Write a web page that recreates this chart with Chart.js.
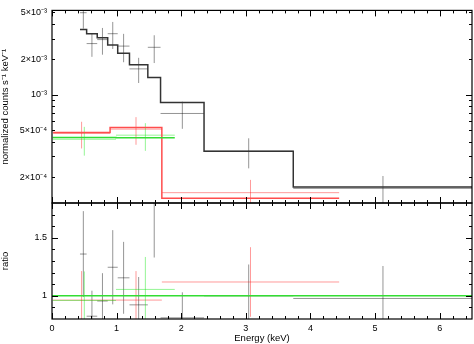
<!DOCTYPE html>
<html lang="en">
<head>
<meta charset="UTF-8">
<title>Spectrum and ratio</title>
<script src="https://cdn.jsdelivr.net/npm/chart.js"></script>
<style>
    body { margin: 0; background: #fff; }
    .wrap { position: relative; width: 474px; height: 344px; }
    .wrap canvas { position: absolute; left: 0; top: 0; }
</style>
</head>
<body>
<div class="wrap">
    <canvas id="topChart" width="474" height="344"></canvas>
    <canvas id="ratioChart" width="474" height="344"></canvas>
</div>
<script>
// black spectrum: bin edges (keV), centres, data, errors, model, ratio
const blackEdges = [0.433, 0.536, 0.700, 0.862, 1.017, 1.199, 1.483, 1.680, 2.353, 3.734, 6.51];
const blackE     = [0.485, 0.618, 0.781, 0.940, 1.108, 1.341, 1.582, 2.017, 3.044, 5.122];
const blackData  = [4.97e-3, 2.72e-3, 2.94e-3, 3.30e-3, 2.59e-3, 1.66e-3, 2.53e-3, 6.95e-4, 3.33e-4, 1.61e-4];
const blackErr   = [1.33e-3, 0.62e-3, 0.75e-3, 0.85e-3, 0.70e-3, 0.40e-3, 0.67e-3, 1.8e-4, 0.95e-4, 0.44e-4];
const blackModel = [3.59e-3, 3.30e-3, 3.05e-3, 2.65e-3, 2.25e-3, 1.80e-3, 1.40e-3, 8.61e-4, 3.33e-4, 1.65e-4];
const blackRatio = [1.36, 0.824, 0.955, 1.246, 1.155, 0.922, 1.81, 0.81, 1.0, 0.977];
const blackRErr  = [0.37, 0.22, 0.24, 0.32, 0.31, 0.24, 0.48, 0.22, 0.27, 0.28];

// red spectrum
const redEdges = [0.017, 0.899, 1.700, 4.444];
const redE     = [0.458, 1.300, 3.072];
const redData  = [4.71e-4, 5.12e-4, 1.48e-4];
const redErr   = [1.2e-4, 1.35e-4, 0.42e-4];
const redModel = [4.80e-4, 5.29e-4, 1.33e-4];
const redRatio = [0.963, 0.963, 1.119];
const redRErr  = [0.25, 0.25, 0.30];

// green spectrum
const greenEdges = [0.01, 0.99, 1.90];
const greenE     = [0.50, 1.445];
const greenData  = [4.2e-4, 4.55e-4];
const greenErr   = [1.15e-4, 1.2e-4];
const greenModel = [4.35e-4, 4.32e-4];
const greenRatio = [0.96, 1.055];
const greenRErr  = [0.25, 0.28];

// ratio = 1 reference line
const refX = [0, 6.5];
const refY = [1, 1];

// axes
const xRange = [0, 6.5];
const xTicks = [0, 1, 2, 3, 4, 5, 6];
const xTickLabels = ['0', '1', '2', '3', '4', '5', '6'];
const topRange = [1.21e-4, 5.2e-3];
const topTicks = [2e-4, 5e-4, 1e-3, 2e-3, 5e-3];
const topTickLabels = ['2×10⁻⁴', '5×10⁻⁴', '10⁻³', '2×10⁻³', '5×10⁻³'];
const ratioRange = [0.8, 1.8];
const ratioTicks = [1, 1.5];
const ratioTickLabels = ['1', '1.5'];

// minor tick positions
const xMinor = [];
for (let i = 1; i < 33; i++) if (i % 5) xMinor.push(i * 0.2);
const topMajor = [1e-3];
const topMinor = [2e-4, 3e-4, 4e-4, 5e-4, 6e-4, 7e-4, 8e-4, 9e-4, 2e-3, 3e-3, 4e-3, 5e-3];
const ratioMajor = [1, 1.5];
const ratioMinor = [0.9, 1.1, 1.2, 1.3, 1.4, 1.6, 1.7];

const BLACK_DATA = 'rgba(0,0,0,0.42)', BLACK_MODEL = '#333';
const RED_DATA = 'rgba(255,0,0,0.4)', RED_MODEL = '#ff4d4d';
const GREEN_DATA = 'rgba(0,230,0,0.42)', GREEN_MODEL = '#33dd33';

Chart.defaults.font.family = "'Liberation Sans', Arial, sans-serif";
Chart.defaults.font.size = 9;
Chart.defaults.color = '#000';

// crosses: horizontal bar across the bin + vertical error bar, split by gaps
function crosses(edges, xs, ys, errs) {
    const pts = [];
    xs.forEach((x, i) => {
        pts.push({x: edges[i], y: ys[i]}, {x: edges[i + 1], y: ys[i]}, {x: x, y: null});
        pts.push({x: x, y: ys[i] - errs[i]}, {x: x, y: ys[i] + errs[i]}, {x: x, y: null});
    });
    return pts;
}

function steps(edges, model) {
    return edges.map((e, i) => ({x: e, y: model[Math.min(i, model.length - 1)]}));
}

function lineSet(data, color, width, stepped) {
    return {
        data: data, borderColor: color, borderWidth: width, pointRadius: 0,
        spanGaps: false, stepped: !!stepped, tension: 0, fill: false
    };
}

// inward tick marks and frame, like the original plot
function frame(yMajor, yMinor) {
    return {
        id: 'frame',
        afterDatasetsDraw(chart) {
            const {ctx, chartArea: a} = chart;
            const xs = chart.scales.x, ys = chart.scales.y;
            ctx.save();
            ctx.strokeStyle = '#000';
            ctx.lineWidth = 1;
            ctx.beginPath();
            const vTick = (v, len) => {
                const p = Math.round(xs.getPixelForValue(v)) + 0.5;
                ctx.moveTo(p, a.bottom); ctx.lineTo(p, a.bottom - len);
                ctx.moveTo(p, a.top); ctx.lineTo(p, a.top + len);
            };
            const hTick = (v, len) => {
                const p = Math.round(ys.getPixelForValue(v)) + 0.5;
                ctx.moveTo(a.left, p); ctx.lineTo(a.left + len, p);
                ctx.moveTo(a.right, p); ctx.lineTo(a.right - len, p);
            };
            xTicks.forEach(v => vTick(v, 6));
            xMinor.forEach(v => vTick(v, 3));
            yMajor.forEach(v => hTick(v, 6));
            yMinor.forEach(v => hTick(v, 3));
            ctx.stroke();
            ctx.lineWidth = 1.2;
            ctx.strokeRect(a.left, a.top, a.right - a.left, a.bottom - a.top);
            ctx.restore();
        }
    };
}

const baseOpts = {
    responsive: false,
    animation: false,
    devicePixelRatio: 1,
    plugins: { legend: { display: false }, tooltip: { enabled: false } }
};

function yAxis(type, range, ticks, labels, title) {
    return {
        type: type, min: range[0], max: range[1],
        grid: { display: false, drawTicks: false },
        border: { display: false },
        afterBuildTicks: s => { s.ticks = ticks.map(v => ({value: v})); },
        ticks: { padding: 5, autoSkip: false, callback: (v, i) => labels[i] },
        title: { display: true, text: title, padding: 0, font: { size: 9.5 } },
        afterFit: s => { s.width = 52; }
    };
}

new Chart(document.getElementById('topChart'), {
    type: 'line',
    data: {
        datasets: [
            lineSet(steps(greenEdges, greenModel), GREEN_MODEL, 1.5, true),
            lineSet(steps(redEdges, redModel), RED_MODEL, 1.5, true),
            lineSet(steps(blackEdges, blackModel), BLACK_MODEL, 1.5, true),
            lineSet(crosses(greenEdges, greenE, greenData, greenErr), GREEN_DATA, 1),
            lineSet(crosses(redEdges, redE, redData, redErr), RED_DATA, 1),
            lineSet(crosses(blackEdges, blackE, blackData, blackErr), BLACK_DATA, 1)
        ]
    },
    options: Object.assign({}, baseOpts, {
        layout: { padding: { top: 10, right: 2, bottom: 141, left: 0 } },
        scales: {
            x: { type: 'linear', min: xRange[0], max: xRange[1], display: false },
            y: yAxis('logarithmic', topRange, topTicks, topTickLabels, 'normalized counts s⁻¹ keV⁻¹')
        }
    }),
    plugins: [frame(topMajor, topMinor)]
});

new Chart(document.getElementById('ratioChart'), {
    type: 'line',
    data: {
        datasets: [
            lineSet(refX.map((x, i) => ({x: x, y: refY[i]})), GREEN_MODEL, 1.5),
            lineSet(crosses(greenEdges, greenE, greenRatio, greenRErr), GREEN_DATA, 1),
            lineSet(crosses(redEdges, redE, redRatio, redRErr), RED_DATA, 1),
            lineSet(crosses(blackEdges, blackE, blackRatio, blackRErr), BLACK_DATA, 1)
        ]
    },
    options: Object.assign({}, baseOpts, {
        layout: { padding: { top: 203, right: 2, bottom: 0, left: 0 } },
        scales: {
            x: {
                type: 'linear', min: xRange[0], max: xRange[1],
                grid: { display: false, drawTicks: false },
                border: { display: false },
                afterBuildTicks: s => { s.ticks = xTicks.map(v => ({value: v})); },
                ticks: { padding: 4, autoSkip: false, maxRotation: 0, callback: (v, i) => xTickLabels[i] },
                title: { display: true, text: 'Energy (keV)', padding: 0, font: { size: 9.5 } },
                afterFit: s => { s.height = 25; }
            },
            y: yAxis('linear', ratioRange, ratioTicks, ratioTickLabels, 'ratio')
        }
    }),
    plugins: [frame(ratioMajor, ratioMinor)]
});
</script>
</body>
</html>
